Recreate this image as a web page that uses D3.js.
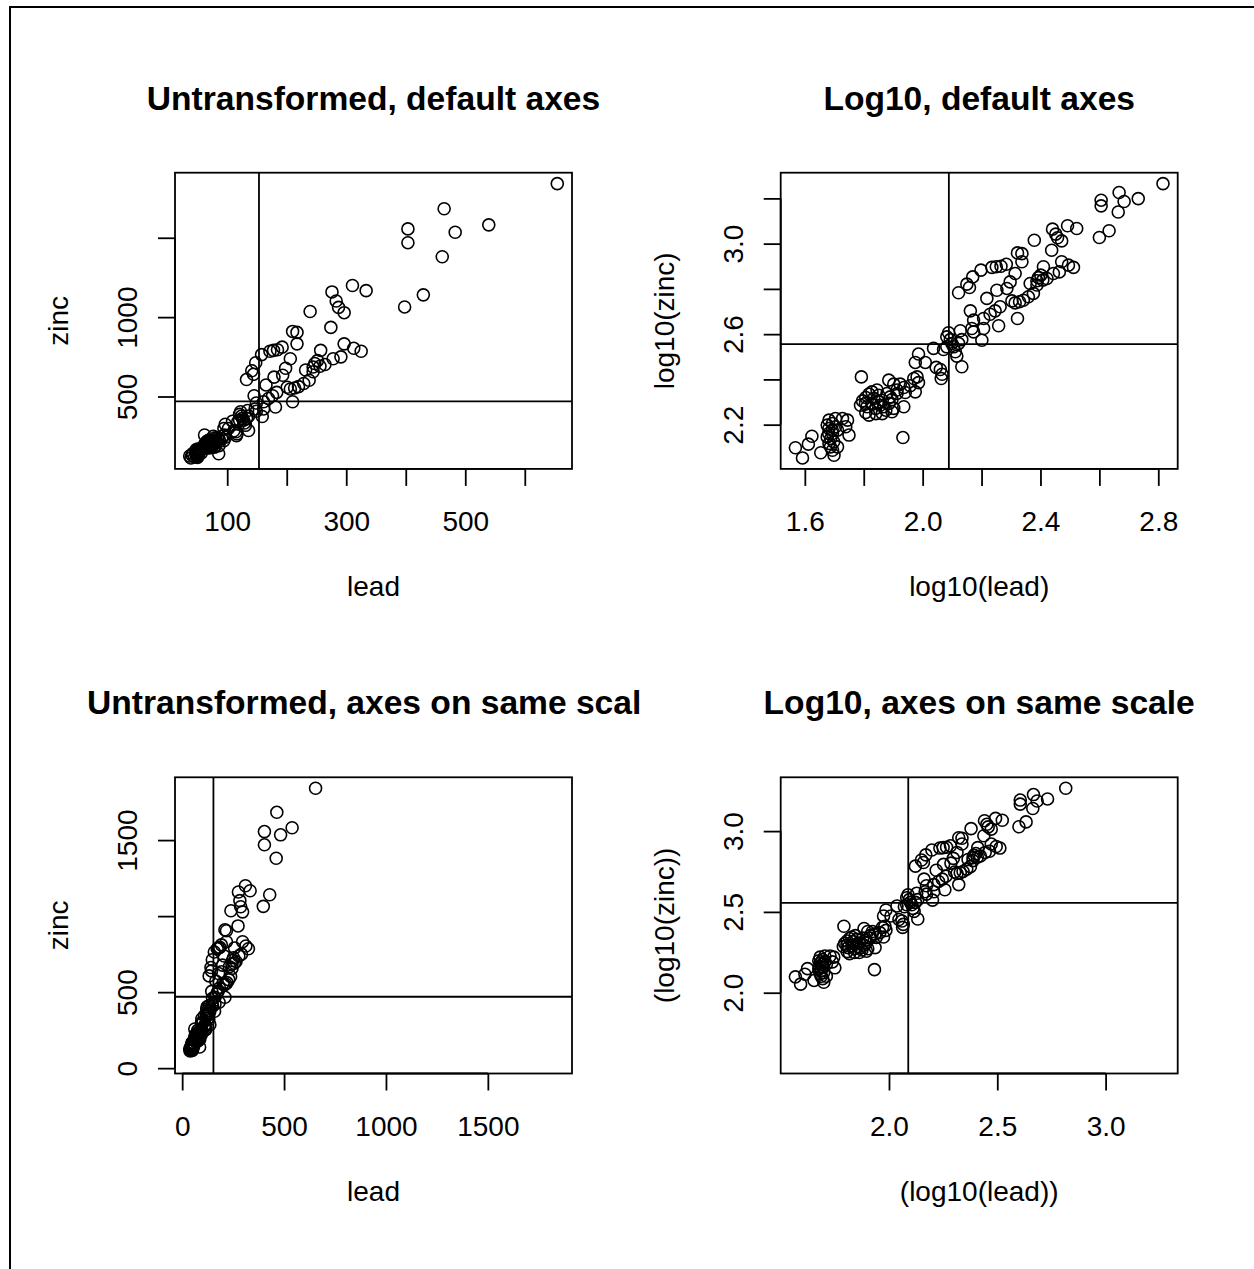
<!DOCTYPE html>
<html>
<head>
<meta charset="utf-8">
<script src="https://cdn.jsdelivr.net/npm/d3@7"></script>
<style>
  body { margin: 0; background: #fff; }
  svg { display: block; font-family: 'Liberation Sans', Arial, Helvetica, sans-serif; }
</style>
</head>
<body>
<svg id="chart" width="1254" height="1269"></svg>
<script>
'use strict';

// readings of every sample, taken from the log10 panel (log10 of lead / zinc)
var logLead = [
    2.816, 2.667, 2.732, 2.684, 2.606, 2.606, 2.664, 2.633, 2.600,
    2.441, 2.492, 2.523, 2.452, 2.458, 2.472, 2.438, 2.379, 2.322, 2.337, 2.337, 2.314, 2.284,
    2.266, 2.250, 2.235, 2.198, 2.170, 2.150, 2.159, 2.122, 2.297, 2.286, 2.252, 2.218,
    2.472, 2.495, 2.512, 2.464, 2.410, 2.444, 2.422, 2.408, 2.393, 2.388, 2.401, 2.365,
    2.376, 2.359, 2.342, 2.329, 2.314, 2.303, 2.322, 2.263, 2.246, 2.229, 2.207, 2.162,
    2.258, 2.173, 2.207, 2.167, 2.173, 2.201, 2.128, 2.133, 2.122, 2.388,
    2.088, 2.094, 2.082, 2.105, 2.111, 2.116, 2.071, 2.037, 2.133, 1.986, 1.975, 2.009,
    2.046, 2.060, 2.066, 2.063, 2.099, 2.082,
    1.792, 1.885, 1.902, 1.924, 1.936, 1.970, 1.981, 1.986, 1.975, 1.941, 1.913, 1.958,
    1.828, 1.845, 1.807, 1.796, 1.818, 1.829, 1.863, 1.886, 1.875, 1.807, 1.818, 1.841,
    1.863, 1.896, 1.913, 1.902, 1.936, 1.811, 1.840, 1.856, 1.879, 1.896, 1.851, 1.806,
    1.933, 1.834, 1.851, 1.868, 1.890, 1.789,
    1.568, 1.592, 1.612, 1.624, 1.654, 1.682, 1.694, 1.682, 1.694, 1.688, 1.682, 1.694,
    1.699, 1.711, 1.728, 1.745, 1.739, 1.750, 1.711, 1.676, 1.704, 1.687, 1.676, 1.704,
    1.693, 1.681, 1.698
];
var logZinc = [
    3.265, 3.226, 3.199, 3.186, 3.192, 3.167, 3.140, 3.057, 3.027,
    3.064, 3.079, 3.067, 3.042, 3.026, 3.012, 2.971, 3.015, 2.959, 2.956, 2.920, 2.868, 2.909,
    2.900, 2.898, 2.895, 2.883, 2.853, 2.821, 2.806, 2.783, 2.831, 2.802, 2.794, 2.758,
    2.920, 2.905, 2.895, 2.875, 2.898, 2.868, 2.846, 2.839, 2.850, 2.836, 2.861, 2.824,
    2.780, 2.765, 2.750, 2.743, 2.738, 2.747, 2.669, 2.721, 2.703, 2.688, 2.669, 2.703,
    2.637, 2.662, 2.625, 2.625, 2.610, 2.573, 2.615, 2.576, 2.559, 2.817,
    2.606, 2.576, 2.544, 2.544, 2.522, 2.503, 2.532, 2.537, 2.456, 2.512, 2.475, 2.475,
    2.453, 2.444, 2.423, 2.404, 2.559, 2.588,
    2.411, 2.397, 2.379, 2.379, 2.364, 2.404, 2.411, 2.386, 2.345, 2.342, 2.353, 2.372,
    2.345, 2.353, 2.320, 2.305, 2.335, 2.291, 2.308, 2.294, 2.264, 2.254, 2.242, 2.249,
    2.249, 2.311, 2.338, 2.272, 2.279, 2.279, 2.272, 2.286, 2.338, 2.257, 2.330, 2.294,
    2.143, 2.316, 2.301, 2.279, 2.323, 2.286,
    2.098, 2.053, 2.114, 2.149, 2.076, 2.220, 2.205, 2.183, 2.161, 2.139, 2.117, 2.087,
    2.065, 2.102, 2.227, 2.220, 2.191, 2.154, 2.176, 2.198, 2.191, 2.102, 2.146, 2.227,
    2.176, 2.161, 2.124
];

// reference lines (means)
var meanLead = 153.4, meanZinc = 469.7;
var meanLogLead = 2.089, meanLogZinc = 2.556;

// ticks and the labels R kept
var leadTicks = [100, 200, 300, 400, 500, 600], leadLabels = [100, 300, 500];
var zincTicks = [500, 1000, 1500], zincLabels = [500, 1000];
var logLeadTicks = [1.6, 1.8, 2.0, 2.2, 2.4, 2.6, 2.8], logLeadLabels = [1.6, 2.0, 2.4, 2.8];
var logZincTicks = [2.2, 2.4, 2.6, 2.8, 3.0, 3.2], logZincLabels = [2.2, 2.6, 3.0];
var sameTicks = [0, 500, 1000, 1500], sameXLabels = [0, 500, 1000, 1500], sameYLabels = [0, 500, 1500];
var logSameTicks = [2.0, 2.5, 3.0], logSameLabels = [2.0, 2.5, 3.0];

var titles = ['Untransformed, default axes', 'Log10, default axes',
              'Untransformed, axes on same scale', 'Log10, axes on same scale'];

var lead = logLead.map(function(v) { return Math.pow(10, v); });
var zinc = logZinc.map(function(v) { return Math.pow(10, v); });
var samples = lead.map(function(d, i) {
    return {lead: d, zinc: zinc[i], llead: logLead[i], lzinc: logZinc[i]};
});

function padded(ext) {
    var r = ext[1] - ext[0];
    return [ext[0] - 0.04 * r, ext[1] + 0.04 * r];
}

var fmtInt = function(d) { return String(d); };
var fmt1 = function(d) { return d.toFixed(1); };

var leadExt = d3.extent(lead), zincExt = d3.extent(zinc);
var lleadExt = d3.extent(logLead), lzincExt = d3.extent(logZinc);
var sameExt = d3.extent(lead.concat(zinc));
var lsameExt = d3.extent(logLead.concat(logZinc));

var colX = [175, 780.7], boxW = 397;
var rowY = [172.7, 777.3], boxH = 296.2;

var panels = [
    {col: 0, row: 0, title: titles[0], xlab: 'lead', ylab: 'zinc', xk: 'lead', yk: 'zinc',
     xdom: padded(leadExt), ydom: padded(zincExt),
     xt: leadTicks, xl: leadLabels, yt: zincTicks, yl: zincLabels, f: fmtInt,
     vx: meanLead, hy: meanZinc},
    {col: 1, row: 0, title: titles[1], xlab: 'log10(lead)', ylab: 'log10(zinc)', xk: 'llead', yk: 'lzinc',
     xdom: padded(lleadExt), ydom: padded(lzincExt),
     xt: logLeadTicks, xl: logLeadLabels, yt: logZincTicks, yl: logZincLabels, f: fmt1,
     vx: meanLogLead, hy: meanLogZinc},
    {col: 0, row: 1, title: titles[2], xlab: 'lead', ylab: 'zinc', xk: 'lead', yk: 'zinc',
     xdom: padded(sameExt), ydom: padded(sameExt),
     xt: sameTicks, xl: sameXLabels, yt: sameTicks, yl: sameYLabels, f: fmtInt,
     vx: meanLead, hy: meanZinc},
    {col: 1, row: 1, title: titles[3], xlab: '(log10(lead))', ylab: '(log10(zinc))', xk: 'llead', yk: 'lzinc',
     xdom: padded(lsameExt), ydom: padded(lsameExt),
     xt: logSameTicks, xl: logSameLabels, yt: logSameTicks, yl: logSameLabels, f: fmt1,
     vx: meanLogLead, hy: meanLogZinc}
];

var svg = d3.select('#chart');
svg.append('rect').attr('width', 1254).attr('height', 1269).attr('fill', '#fff');
svg.append('rect')
    .attr('x', 10).attr('y', 7).attr('width', 2000).attr('height', 2000)
    .attr('fill', 'none').attr('stroke', '#000').attr('stroke-width', 2);

svg.append('clipPath').attr('id', 'leftFig')
    .append('rect').attr('x', 0).attr('y', 0).attr('width', 640).attr('height', 1269);

var lw = 1.8, fs = 28;

panels.forEach(function(p) {
    var x0 = colX[p.col], x1 = x0 + boxW, y0 = rowY[p.row], y1 = y0 + boxH;
    var x = d3.scaleLinear().domain(p.xdom).range([x0, x1]);
    var y = d3.scaleLinear().domain(p.ydom).range([y1, y0]);
    var g = svg.append('g');

    // points
    g.selectAll('circle.pt').data(samples).enter()
        .append('circle')
            .attr('class', 'pt')
            .attr('cx', function(d) { return x(d[p.xk]); })
            .attr('cy', function(d) { return y(d[p.yk]); })
            .attr('r', 6)
            .attr('fill', 'none')
            .attr('stroke', '#000')
            .attr('stroke-width', 1.6);

    // mean lines
    g.append('line').attr('x1', x(p.vx)).attr('x2', x(p.vx)).attr('y1', y0).attr('y2', y1)
        .attr('stroke', '#000').attr('stroke-width', lw);
    g.append('line').attr('x1', x0).attr('x2', x1).attr('y1', y(p.hy)).attr('y2', y(p.hy))
        .attr('stroke', '#000').attr('stroke-width', lw);

    // box
    g.append('rect').attr('x', x0).attr('y', y0).attr('width', boxW).attr('height', boxH)
        .attr('fill', 'none').attr('stroke', '#000').attr('stroke-width', lw);

    // x axis
    var ax = g.append('g').attr('transform', 'translate(0,' + y1 + ')')
        .call(d3.axisBottom(x).tickValues(p.xt).tickSize(17).tickSizeOuter(0)
            .tickFormat(function(d) { return p.xl.indexOf(d) >= 0 ? p.f(d) : ''; }));
    ax.select('.domain').attr('d', 'M' + x(p.xt[0]) + ',0H' + x(p.xt[p.xt.length - 1]))
        .attr('stroke-width', lw);
    ax.selectAll('.tick line').attr('stroke-width', lw);
    ax.selectAll('.tick text').attr('y', 62).attr('dy', null)
        .attr('font-size', fs).attr('fill', '#000');

    // y axis
    var ay = g.append('g').attr('transform', 'translate(' + x0 + ',0)')
        .call(d3.axisLeft(y).tickValues(p.yt).tickSize(17).tickSizeOuter(0)
            .tickFormat(function(d) { return p.yl.indexOf(d) >= 0 ? p.f(d) : ''; }));
    ay.select('.domain').attr('d', 'M0,' + y(p.yt[0]) + 'V' + y(p.yt[p.yt.length - 1]))
        .attr('stroke-width', lw);
    ay.selectAll('.tick line').attr('stroke-width', lw);
    ay.selectAll('.tick text')
        .attr('x', null).attr('dy', null)
        .attr('transform', 'translate(-38,0) rotate(-90)')
        .attr('text-anchor', 'middle')
        .attr('font-size', fs).attr('fill', '#000');
    ax.attr('font-family', null);
    ay.attr('font-family', null);

    // axis titles
    g.append('text').attr('x', (x0 + x1) / 2).attr('y', y1 + 127)
        .attr('text-anchor', 'middle').attr('font-size', fs).text(p.xlab);
    g.append('text').attr('transform', 'translate(' + (x0 - 107) + ',' + ((y0 + y1) / 2) + ') rotate(-90)')
        .attr('text-anchor', 'middle').attr('font-size', fs).text(p.ylab);

    // main title
    var t = g.append('text').attr('x', (x0 + x1) / 2).attr('y', y0 - 63)
        .attr('text-anchor', 'middle').attr('font-size', fs * 1.2).attr('font-weight', 'bold')
        .text(p.title);
    if (p.col === 0) t.attr('clip-path', 'url(#leftFig)');
});
</script>
</body>
</html>
